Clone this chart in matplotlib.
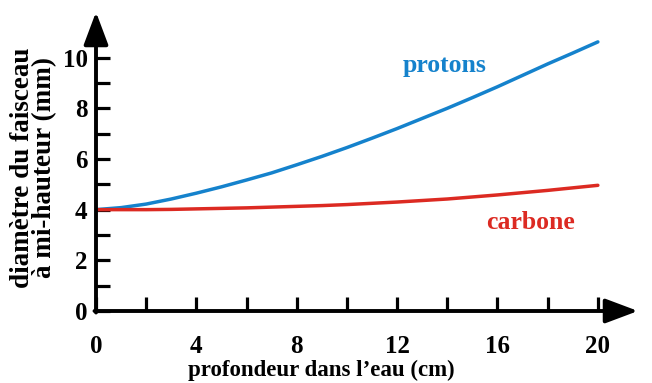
import numpy as np
import matplotlib
matplotlib.use('Agg')
from matplotlib import pyplot as plt

# valeurs
depth = [0, 1, 2, 3, 4, 5, 6, 7, 8, 9, 10, 11, 12, 13, 14, 15, 16, 17, 18, 19, 20]
protons = [4.0, 4.08, 4.22, 4.42, 4.65, 4.9, 5.17, 5.45, 5.77, 6.1, 6.45,
           6.82, 7.2, 7.6, 8.0, 8.42, 8.85, 9.3, 9.75, 10.18, 10.62]
carbone = [4.0, 4.0, 4.0, 4.01, 4.03, 4.05, 4.07, 4.1, 4.13, 4.16, 4.2,
           4.25, 4.3, 4.36, 4.42, 4.5, 4.58, 4.67, 4.76, 4.86, 4.96]

xticks_major = [0, 4, 8, 12, 16, 20]
yticks_major = [0, 2, 4, 6, 8, 10]

plt.rcParams['font.family'] = ['Liberation Serif', 'DejaVu Serif']
plt.rcParams['font.weight'] = 'bold'

fig = plt.figure(figsize=(6.52, 3.83), dpi=100)
ax = fig.add_axes([96/652, 72/383, 542/652, 299/383])
ax.set_xlim(0, 21.6)
ax.set_ylim(0, 11.8)

blue = '#1582cc'
red = '#dc2a22'
ax.plot(depth, protons, color=blue, lw=2.5, solid_capstyle='round')
ax.plot(depth, carbone, color=red, lw=2.5, solid_capstyle='round')

for s in ax.spines.values():
    s.set_visible(False)

# axes avec flèches
arrow = dict(arrowstyle='-|>,head_length=2.0,head_width=0.75', lw=2.8,
             color='black', shrinkA=0, shrinkB=0)
ax.annotate('', xy=(21.6, 0), xytext=(-0.06, 0), arrowprops=arrow,
            annotation_clip=False)
ax.annotate('', xy=(0, 11.8), xytext=(0, -0.06), arrowprops=arrow,
            annotation_clip=False)

ax.set_xticks(xticks_major)
ax.set_xticks(np.arange(2, 21, 4), minor=True)
ax.set_yticks(yticks_major)
ax.set_yticks(np.arange(1, 11, 2), minor=True)
ax.tick_params(which='both', direction='in', length=10, width=2.3,
               labelsize=18, color='black')
ax.tick_params(which='minor', labelleft=False, labelbottom=False)
ax.tick_params(axis='x', pad=17)
ax.tick_params(axis='y', pad=6)

ax.set_xlabel('profondeur dans l’eau (cm)', fontsize=16.5, fontweight='bold')
ax.xaxis.set_label_coords(0.415, -0.2)
ax.xaxis.label.set_va('center')
ax.set_ylabel('diamètre du faisceau\nà mi-hauteur (mm)', fontsize=19.5,
              fontweight='bold', linespacing=0.84)
ax.yaxis.set_label_coords(-0.115, 0.48)
ax.yaxis.label.set_va('center')

ax.text(13.9, 9.67, 'protons', color=blue, fontsize=18.5, fontweight='bold',
        ha='center', va='center')
ax.text(17.3, 3.51, 'carbone', color=red, fontsize=18.5, fontweight='bold',
        ha='center', va='center')

fig.savefig('out.png', dpi=100)
